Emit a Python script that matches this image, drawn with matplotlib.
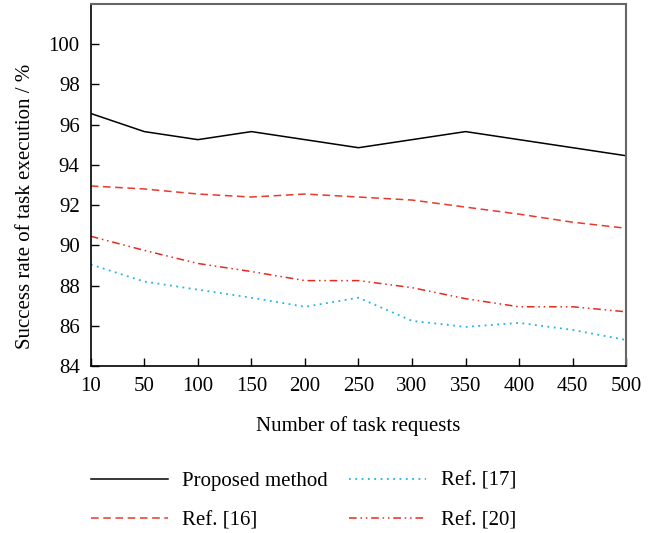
import matplotlib
matplotlib.use("Agg")
import matplotlib.pyplot as plt

requests = ["10", "50", "100", "150", "200", "250", "300", "350", "400", "450", "500"]
proposed = [96.55, 95.65, 95.25, 95.65, 95.25, 94.85, 95.25, 95.65, 95.25, 94.85, 94.45]
ref16 = [92.95, 92.8, 92.55, 92.4, 92.55, 92.4, 92.25, 91.9, 91.55, 91.15, 90.85]
ref17 = [89.05, 88.2, 87.8, 87.4, 86.95, 87.4, 86.25, 85.95, 86.15, 85.8, 85.3]
ref20 = [90.45, 89.75, 89.1, 88.7, 88.25, 88.25, 87.9, 87.35, 86.95, 86.95, 86.7]

plt.rcParams['font.family'] = ['Liberation Serif', 'DejaVu Serif']

fig = plt.figure(figsize=(6.53, 5.33), dpi=100)
ax = fig.add_axes([0.139, 0.313, 0.82, 0.68])

x = range(len(requests))
ax.plot(x, proposed, color="black", lw=1.1, label="Proposed method")
ax.plot(x, ref16, color="#e8392c", lw=1.1, ls=(0, (5, 3)), label="Ref. [16]")
ax.plot(x, ref17, color="#1fb4e6", lw=1.3, ls=(0, (1, 2.5)), label="Ref. [17]")
ax.plot(x, ref20, color="#e8281e", lw=1.1, ls=(0, (5, 2.5, 1, 2.5, 1, 2.5)), label="Ref. [20]")

ax.set_xlim(0, len(requests) - 1)
ax.set_ylim(84, 102)
ax.set_xticks(list(x))
ax.set_xticklabels(requests)
ax.set_yticks(range(84, 101, 2))
ax.tick_params(direction="in", length=6, width=1, labelsize=15, pad=8)
for s in ["top", "right"]:
    ax.spines[s].set_color("#666666")
    ax.spines[s].set_linewidth(1.5)
for s in ["left", "bottom"]:
    ax.spines[s].set_linewidth(1.2)

ax.set_xlabel("Number of task requests", fontsize=15, labelpad=14)
ax.set_ylabel("Success rate of task execution / %", fontsize=15)
ax.yaxis.set_label_coords(-0.104, 0.44)

ax.legend(ncol=2, frameon=False, fontsize=15, loc="upper left",
          bbox_to_anchor=(0.0, -0.29), borderpad=0, borderaxespad=0,
          handlelength=3.7, columnspacing=1.0,
          labelspacing=0.95, handletextpad=0.7)

fig.savefig("out.png", dpi=100)
